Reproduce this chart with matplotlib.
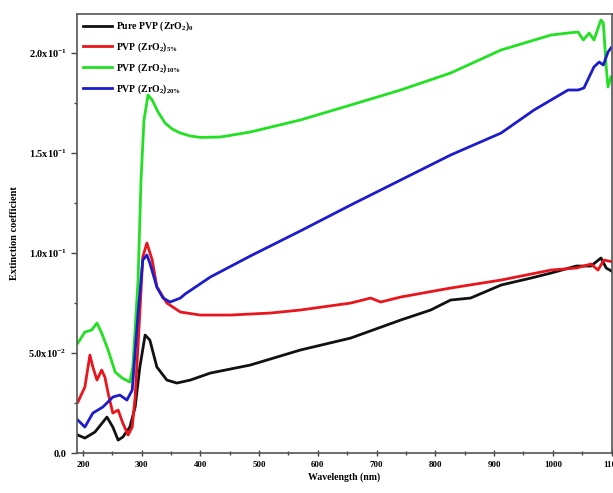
import matplotlib
matplotlib.use("Agg")
import matplotlib.pyplot as plt
from matplotlib.ticker import MultipleLocator, FixedLocator

plt.rcParams['font.family'] = ['Liberation Serif', 'DejaVu Serif']
plt.rcParams['font.weight'] = 'bold'
plt.rcParams['mathtext.fontset'] = 'custom'
plt.rcParams['mathtext.rm'] = 'Liberation Serif:bold'
plt.rcParams['mathtext.it'] = 'Liberation Serif:bold:italic'
plt.rcParams['mathtext.bf'] = 'Liberation Serif:bold'
plt.rcParams['mathtext.default'] = 'rm'

labels = ["Pure PVP (ZrO$_2$)$_0$", "PVP (ZrO$_2$)$_{5\\%}$",
          "PVP (ZrO$_2$)$_{10\\%}$", "PVP (ZrO$_2$)$_{20\\%}$"]
colors = ["#111111", "#e8161c", "#22e022", "#1c1ccc"]

wl_pure = [191.5, 203.4, 220.5, 241, 251, 260, 268, 280, 289, 297, 306, 314, 326, 343, 360, 383, 417,
           485, 570, 656, 741, 792, 826, 860, 912, 963, 997, 1040, 1065, 1082, 1091, 1103]
k_pure = [0.009, 0.0075, 0.0105, 0.018, 0.013, 0.0065, 0.008, 0.013, 0.023, 0.043, 0.059, 0.0565, 0.043,
          0.0365, 0.035, 0.0365, 0.04, 0.044, 0.0515, 0.0575, 0.0665, 0.0715, 0.0765, 0.0775, 0.084,
          0.0875, 0.09, 0.0935, 0.0935, 0.0975, 0.0925, 0.0905]

wl_5 = [191.5, 203.4, 212, 217, 224, 232, 237.5, 243, 251, 260, 268, 277, 284, 289, 297, 302, 309, 318,
        326, 343, 366, 400, 451, 519, 570, 656, 690, 707, 741, 826, 912, 997, 1040, 1065, 1077, 1087, 1103]
k_5 = [0.0255, 0.033, 0.049, 0.043, 0.0365, 0.0415, 0.038, 0.03, 0.02, 0.0215, 0.015, 0.009, 0.013,
       0.028, 0.07, 0.098, 0.105, 0.0965, 0.083, 0.075, 0.0705, 0.069, 0.069, 0.07, 0.0715, 0.075,
       0.0775, 0.0755, 0.078, 0.0825, 0.0865, 0.0915, 0.0925, 0.0945, 0.0915, 0.0965, 0.0955]

wl_10 = [191.5, 203.4, 215, 224, 232, 243, 255, 267, 280, 285, 294, 299, 304, 311, 318, 328, 340, 352,
         366, 383, 400, 434, 485, 570, 656, 741, 826, 912, 997, 1026, 1043, 1052, 1062, 1070, 1082, 1086,
         1091, 1094, 1099]
k_10 = [0.055, 0.0605, 0.0615, 0.065, 0.06, 0.0515, 0.0405, 0.0375, 0.0355, 0.043, 0.0865, 0.1365,
        0.1665, 0.179, 0.1765, 0.1705, 0.165, 0.162, 0.16, 0.1585, 0.1578, 0.158, 0.1605, 0.1665, 0.174,
        0.1815, 0.19, 0.2015, 0.209, 0.21, 0.2105, 0.2065, 0.21, 0.2065, 0.2165, 0.215, 0.193, 0.183,
        0.188]

wl_20 = [191.5, 203.4, 217, 234, 251, 263, 275, 284, 294, 302, 309, 314, 326, 336.5, 348.5, 366, 374,
         417, 485, 570, 656, 741, 826, 912, 968, 1026, 1043, 1053, 1070, 1079, 1086, 1094, 1099]
k_20 = [0.0165, 0.013, 0.02, 0.023, 0.028, 0.029, 0.0265, 0.0315, 0.07, 0.0965, 0.099, 0.095, 0.083,
        0.0775, 0.0755, 0.0775, 0.0795, 0.088, 0.0985, 0.111, 0.124, 0.1365, 0.149, 0.16, 0.1715,
        0.1815, 0.1815, 0.1825, 0.193, 0.1955, 0.194, 0.2005, 0.2025]

xticks = [200, 300, 400, 500, 600, 700, 800, 900, 1000, 1100]
yticks = [0.0, 0.05, 0.10, 0.15, 0.20]
ytick_labels = ["0.0", "5.0x10$^{-2}$", "1.0x10$^{-1}$", "1.5x10$^{-1}$", "2.0x10$^{-1}$"]

fig = plt.figure(figsize=(6.13, 4.93), dpi=100)
ax = fig.add_axes([0.1256, 0.081, 0.872, 0.8906])

series = [(wl_pure, k_pure), (wl_5, k_5), (wl_10, k_10), (wl_20, k_20)]
for (x, y), c, lab in zip(series, colors, labels):
    ax.plot(x, y, color=c, lw=2.0, label=lab)

ax.set_xlim(190, 1100)
ax.set_ylim(0, 0.2195)
ax.xaxis.set_major_locator(FixedLocator(xticks))
ax.xaxis.set_minor_locator(MultipleLocator(50))
ax.set_xticklabels([str(t) for t in xticks])
ax.yaxis.set_major_locator(FixedLocator(yticks))
ax.yaxis.set_minor_locator(MultipleLocator(0.025))
ax.set_yticklabels(ytick_labels)
ax.tick_params(axis='both', which='major', length=4, width=1, color='#444444')
ax.tick_params(axis='x', which='major', labelsize=6.5)
ax.tick_params(axis='y', which='major', labelsize=7.5)
ax.tick_params(axis='both', which='minor', length=2.5, width=1, color='#444444')
ax.tick_params(axis='x', which='both', direction='inout')
for s in ax.spines.values():
    s.set_color('#555555')
    s.set_linewidth(1.2)

ax.set_xlabel("Wavelength (nm)", fontsize=7, fontweight='bold', labelpad=3)
ax.set_ylabel("Extinction coefficient", fontsize=7.5, fontweight='bold', labelpad=7)

leg = ax.legend(loc='upper left', frameon=False, fontsize=7, handlelength=3.0,
                borderaxespad=0.2, labelspacing=0.75, handletextpad=0.4)

fig.savefig("out.png", dpi=100)
